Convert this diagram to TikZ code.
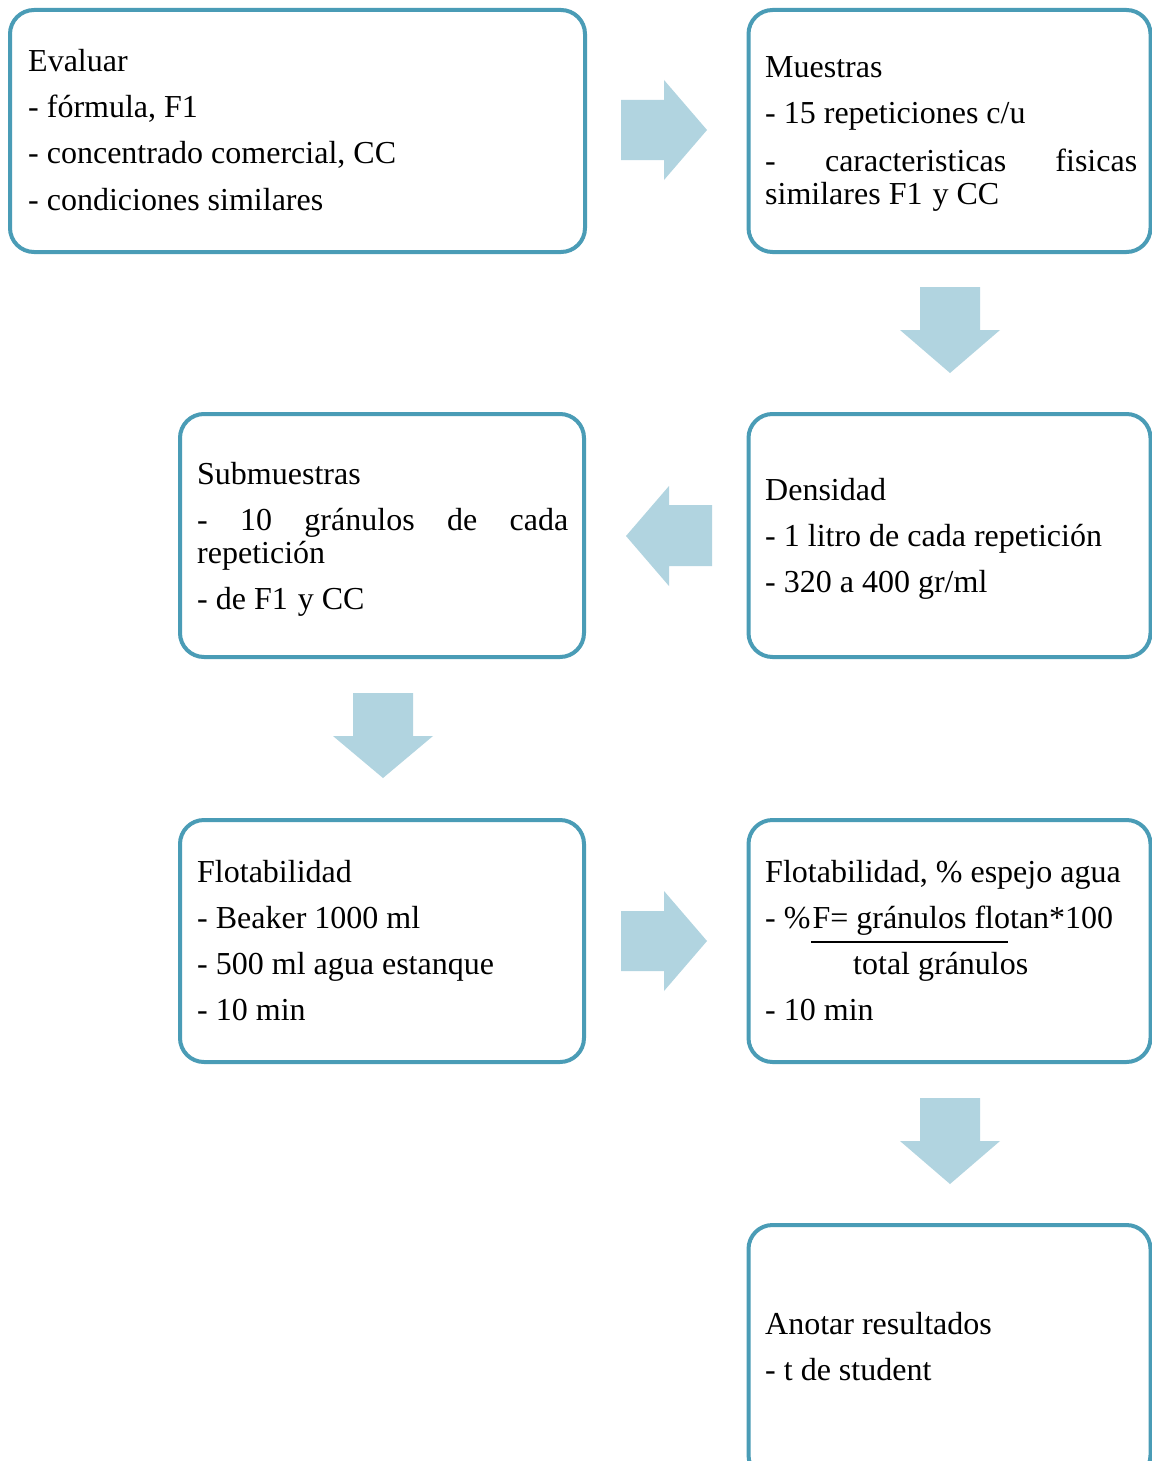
\documentclass[tikz,border=0pt]{standalone}
\usepackage{fontspec}
\setmainfont{Liberation Serif}
\definecolor{bordercol}{RGB}{74,156,182}
\definecolor{arrowcol}{RGB}{177,212,224}
\begin{document}
\begin{tikzpicture}[x=1pt,y=-1pt,
  box/.style={draw=bordercol, line width=4pt, rounded corners=24pt, fill=white, inner sep=0pt},
  txt/.style={anchor=base west, inner sep=0pt, font=\fontsize{32}{38}\selectfont},
  blockarrow/.style={fill=arrowcol, draw=none}]
\useasboundingbox (0,0) rectangle (1151,1461);
\fill[white] (0,0) rectangle (1151,1461);
% boxes
\node[box, minimum width=575pt, minimum height=242pt] (b1) at (297.5,131) {};
\node[box, minimum width=402pt, minimum height=242pt] (b2) at (949.5,131) {};
\node[box, minimum width=404pt, minimum height=243pt] (b3) at (382,535.5) {};
\node[box, minimum width=402pt, minimum height=243pt] (b4) at (949.5,535.5) {};
\node[box, minimum width=404pt, minimum height=242pt] (b5) at (382,941) {};
\node[box, minimum width=402pt, minimum height=242pt] (b6) at (949.5,941) {};
\node[box, minimum width=402pt, minimum height=254pt] (b7) at (949.5,1352) {};
% arrows
\path[blockarrow] (621,100) -- (664,100) -- (664,80) -- (707,130) -- (664,180) -- (664,160) -- (621,160) -- cycle;
\path[blockarrow] (920,287) -- (980,287) -- (980,330) -- (1000,330) -- (950,373) -- (900,330) -- (920,330) -- cycle;
\path[blockarrow] (712,505) -- (669,505) -- (669,486) -- (626,536) -- (669,586) -- (669,566) -- (712,566) -- cycle;
\path[blockarrow] (353,693) -- (413,693) -- (413,736) -- (433,736) -- (383,778) -- (333,736) -- (353,736) -- cycle;
\path[blockarrow] (621,911) -- (664,911) -- (664,891) -- (707,941) -- (664,991) -- (664,971) -- (621,971) -- cycle;
\path[blockarrow] (920,1098) -- (980,1098) -- (980,1141) -- (1000,1141) -- (950,1184) -- (900,1141) -- (920,1141) -- cycle;
% box 1
\node[txt] (t11) at (28,72) {Evaluar};
\node[txt] (t12) at (28,118) {- fórmula, F1};
\node[txt] (t13) at (28,164) {- concentrado comercial, CC};
\node[txt] (t14) at (28,210) {- condiciones similares};
% box 2
\node[txt] (t21) at (765,78) {Muestras};
\node[txt] (t22) at (765,124) {- 15 repeticiones c/u};
\node[txt] (t23) at (765,171) {\makebox[372pt][s]{- caracteristicas fisicas}};
\node[txt] (t24) at (765,204) {similares F1\kern2pt{} y CC};
% box 3
\node[txt] (t31) at (197,484) {Submuestras};
\node[txt] (t32) at (197,530) {\makebox[371pt][s]{- 10 gránulos de cada}};
\node[txt] (t33) at (197,563) {repetición};
\node[txt] (t34) at (197,609) {- de F1\kern2pt{} y CC};
% box 4
\node[txt] (t41) at (765,500) {Densidad};
\node[txt] (t42) at (765,546) {- 1 litro de cada repetición};
\node[txt] (t43) at (765,592) {- 320 a 400 gr/ml};
% box 5
\node[txt] (t51) at (197,882) {Flotabilidad};
\node[txt] (t52) at (197,928) {- Beaker 1000 ml};
\node[txt] (t53) at (197,974) {- 500 ml agua estanque};
\node[txt] (t54) at (197,1020) {- 10 min};
% box 6
\node[txt] (t61) at (765,882) {Flotabilidad, \% espejo agua};
\node[txt] (t62) at (765,928) {- \%\kern2pt F= gránulos flotan*100};
\node[txt] (t63) at (853,974) {total gránulos};
\node[txt] (t64) at (765,1020) {- 10 min};
\coordinate (fl) at (811,941.5);
\coordinate (fr) at (1008,941.5);
\draw[line width=2pt] (fl) -- (fr);
% box 7
\node[txt] (t71) at (765,1334) {Anotar resultados};
\node[txt] (t72) at (765,1380) {- t de student};
\end{tikzpicture}
\end{document}
